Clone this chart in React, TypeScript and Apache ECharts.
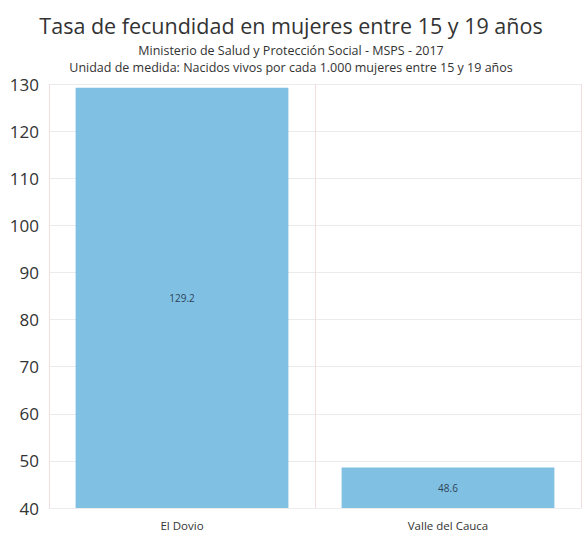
import React, { useEffect, useRef } from "react";
import * as echarts from "echarts";

const categories = ["El Dovio", "Valle del Cauca"];
const values = [129.2, 48.6];
const yMin = 40;
const yMax = 130;
const yInterval = 10;

const titleText = "Tasa de fecundidad en mujeres entre 15 y 19 años";
const subtitle1 = "Ministerio de Salud y Protección Social - MSPS - 2017";
const subtitle2 = "Unidad de medida: Nacidos vivos por cada 1.000 mujeres entre 15 y 19 años";

const FONT = "'Open Sans', 'Noto Sans', sans-serif";

export default function App() {
  const ref = useRef<HTMLDivElement>(null);
  useEffect(() => {
    document.body.style.margin = "0";
    const chart = echarts.init(ref.current!, null, { renderer: "svg" });
    chart.setOption({
      animation: false,
      backgroundColor: "#ffffff",
      title: [
        {
          text: titleText,
          left: "center",
          top: 9,
          textStyle: { fontFamily: FONT, fontSize: 21.5, fontWeight: "normal", color: "#333333" },
        },
        {
          text: subtitle1,
          left: "center",
          top: 39,
          textStyle: { fontFamily: FONT, fontSize: 12.5, fontWeight: "normal", color: "#333333" },
        },
        {
          text: subtitle2,
          left: "center",
          top: 56,
          textStyle: { fontFamily: FONT, fontSize: 12.5, fontWeight: "normal", color: "#333333" },
        },
      ],
      grid: { left: 49, right: 1, top: 84, bottom: 27, containLabel: false },
      xAxis: {
        type: "category",
        data: categories,
        axisLine: { show: true, lineStyle: { color: "#ececec" } },
        axisTick: { show: false },
        splitLine: { show: true, lineStyle: { color: "#f3dede", width: 1 } },
        axisLabel: { fontFamily: FONT, fontSize: 11.5, color: "#333333", margin: 11 },
      },
      yAxis: {
        type: "value",
        min: yMin,
        max: yMax,
        interval: yInterval,
        axisLine: { show: false },
        axisTick: { show: false },
        splitLine: { show: true, lineStyle: { color: "#ebebeb", width: 1 } },
        axisLabel: { fontFamily: FONT, fontSize: 17, color: "#333333", margin: 10 },
      },
      series: [
        {
          type: "bar",
          data: values,
          barCategoryGap: "20%",
          itemStyle: { color: "#80c1e3" },
          label: {
            show: true,
            position: "inside",
            fontFamily: FONT,
            fontSize: 10,
            color: "#2f4358",
            formatter: (p: any) => p.value.toFixed(1),
          },
        },
      ],
    });
    return () => chart.dispose();
  }, []);
  return <div ref={ref} style={{ width: 582, height: 535 }} />;
}
